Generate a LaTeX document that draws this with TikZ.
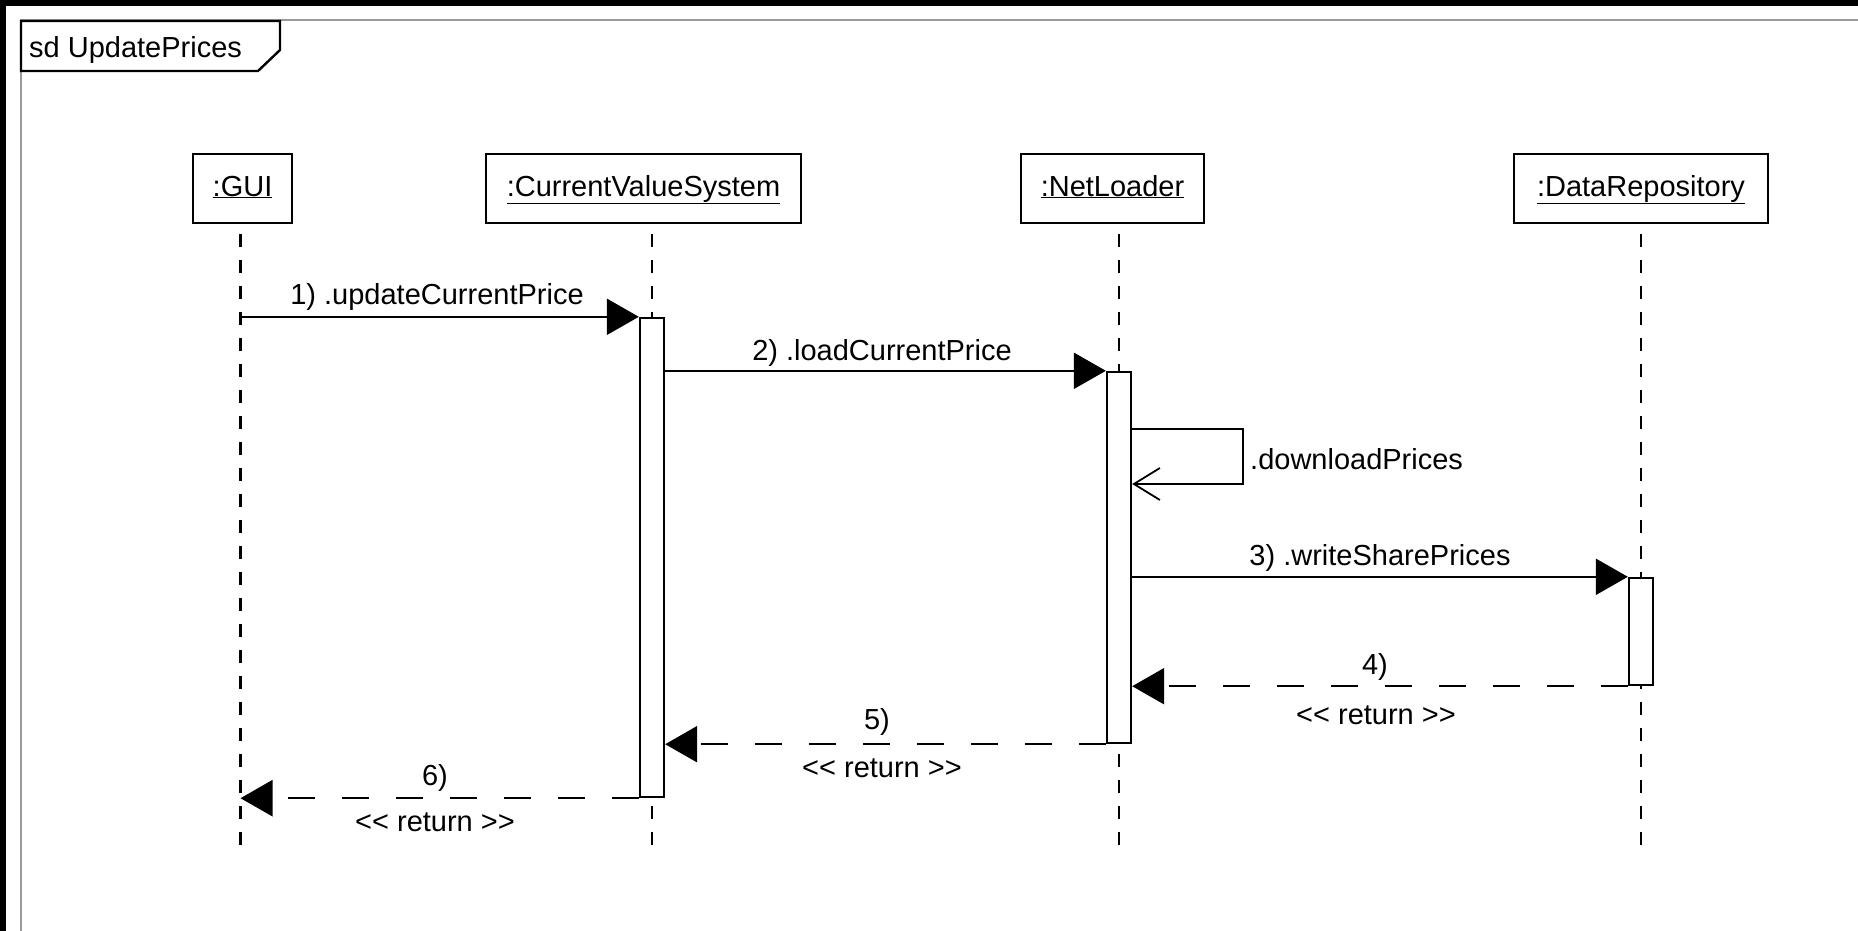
\documentclass[tikz,border=0pt]{standalone}
\usepackage{fontspec}
\setmainfont{Liberation Sans}
\usetikzlibrary{arrows.meta,calc}
\begin{document}
\begin{tikzpicture}[x=1pt,y=-1pt,
  every node/.style={font=\fontsize{29}{34}\selectfont},
  hdr/.style={draw,line width=2.4pt,minimum height=69pt,inner sep=0pt,text height=1.5em,text depth=0pt},
  act/.style={draw,fill=white,line width=2.4pt,minimum width=24pt,inner sep=0pt},
  life/.style={line width=2.4pt,dash pattern=on 13pt off 13pt},
  msg/.style={line width=2.4pt,-{Triangle[length=32pt,width=36pt]}},
  ret/.style={line width=2.4pt,dash pattern=on 27pt off 27pt,-{Triangle[length=32pt,width=36pt]}},
  selfmsg/.style={line width=2.4pt,-{Straight Barb[length=26pt,width=32pt,line width=1.8pt]}},
  lbl/.style={inner sep=0pt,text height=0.75em,text depth=0.22em}
]
\useasboundingbox (0,0) rectangle (1858,931);
\fill[white] (0,0) rectangle (1858,931);
\fill[black] (0,0) rectangle (1858,6);
\fill[black] (0,0) rectangle (6,931);
\draw[black!40, line width=2.4pt] (21,931) -- (21,20) -- (1858,20);
\draw[line width=2.4pt,fill=white] (21,21) -- (280,21) -- (280,50) -- (258,71) -- (21,71) -- cycle;
\node[lbl,anchor=west] (title) at (29,55) {sd UpdatePrices};

% headers
\node[hdr,minimum width=99pt] (gui) at (242.5,188.5) {\underline{:GUI}};
\node[hdr,minimum width=315pt] (cvs) at (643.5,188.5) {\underline{:CurrentValueSystem}};
\node[hdr,minimum width=183pt] (nl) at (1112.5,188.5) {\underline{:NetLoader}};
\node[hdr,minimum width=254pt] (dr) at (1641,188.5) {\underline{:DataRepository}};

% lifeline ends
\coordinate (guiE) at (240.5,853);
\coordinate (cvsE) at (652,853);
\coordinate (nlE) at (1119,853);
\coordinate (drE) at (1641,853);
\draw[life] ([yshift=-10pt]gui.south -| guiE) -- (guiE);
\draw[life] ([yshift=-10pt]cvs.south -| cvsE) -- (cvsE);
\draw[life] ([yshift=-10pt]nl.south -| nlE) -- (nlE);
\draw[life] ([yshift=-10pt]dr.south -| drE) -- (drE);

% activations
\node[act,minimum height=479pt] (a1) at (652,557.5) {};
\node[act,minimum height=371pt] (a2) at (1119,557.5) {};
\node[act,minimum height=107pt] (a3) at (1641,631.5) {};

% messages
\draw[msg] (guiE |- a1.north) -- (a1.north west);
\draw[msg] (a1.east |- a2.north) -- (a2.north west);
\coordinate (s1) at (1243,429);
\coordinate (s2) at (1243,484);
\draw[selfmsg] (a2.east |- s1) -- (s1) -- (s2) -- (a2.east |- s2);
\draw[msg] (a2.east |- a3.north) -- (a3.north west);
\draw[ret] (a3.south west) -- (a2.east |- a3.south);
\draw[ret] (a2.south west) -- (a1.east |- a2.south);
\draw[ret] (a1.south west) -- (guiE |- a1.south);

% labels
\node[lbl] (l1) at (437,302) {1) .updateCurrentPrice};
\node[lbl] (l2) at (882,358) {2) .loadCurrentPrice};
\node[lbl,anchor=west] (ls) at (1250,467) {.downloadPrices};
\node[lbl] (l3) at (1380,563) {3) .writeSharePrices};
\node[lbl] (l4) at (1375,672) {4)};
\node[lbl] (r4) at (1376,722) {{<}{<} return {>}{>}};
\node[lbl] (l5) at (877,727) {5)};
\node[lbl] (r5) at (882,775) {{<}{<} return {>}{>}};
\node[lbl] (l6) at (435,783) {6)};
\node[lbl] (r6) at (435,829) {{<}{<} return {>}{>}};
\end{tikzpicture}
\end{document}
